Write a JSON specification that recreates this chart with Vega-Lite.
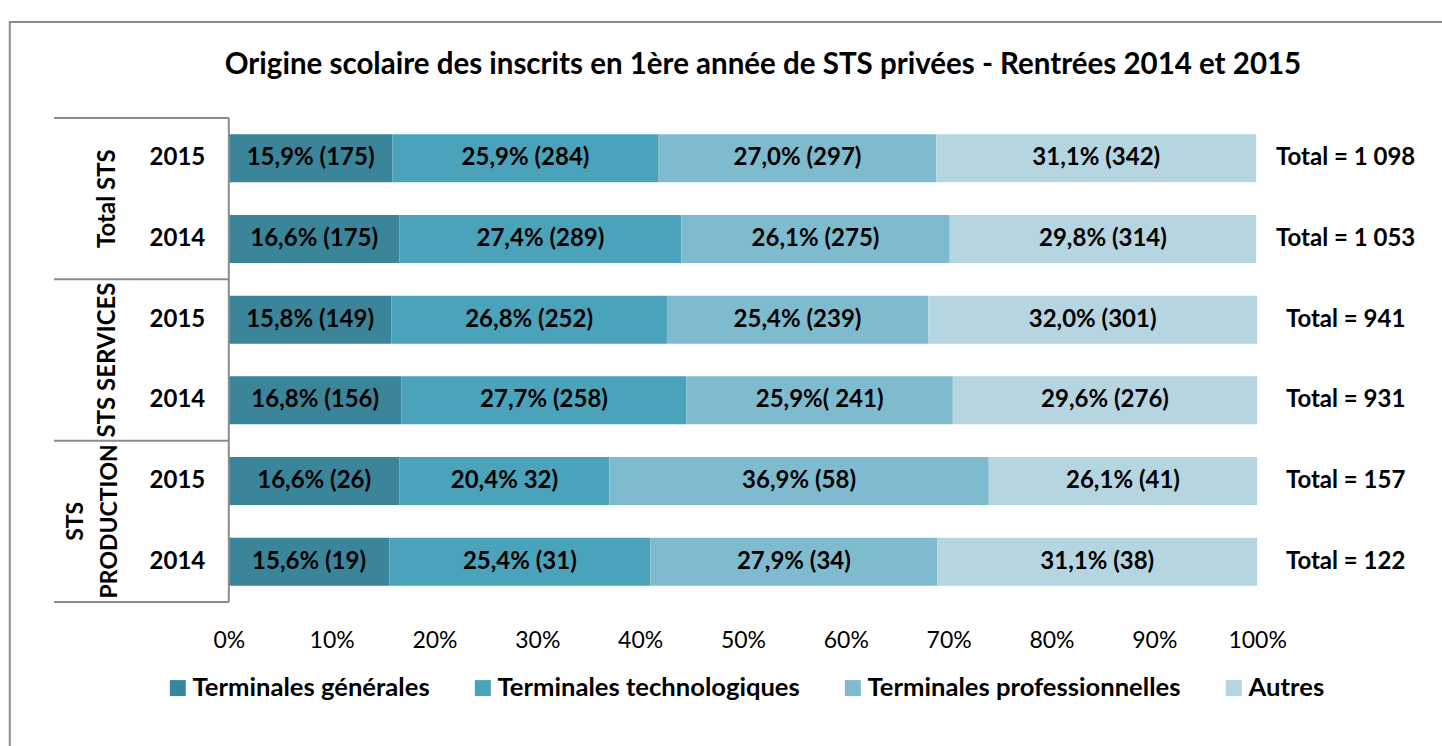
{
  "$schema": "https://vega.github.io/schema/vega-lite/v6.json",
  "autosize": {"type": "none"},
  "width": 1378,
  "height": 494,
  "padding": {"left": 54, "top": 113, "right": 10, "bottom": 139},
  "background": "white",
  "config": {
    "view": {"stroke": null},
    "font": "Lato"
  },
  "title": {
    "text": "Origine scolaire des inscrits en 1ère année de STS privées - Rentrées 2014 et 2015",
    "font": "Lato",
    "fontSize": 29.5,
    "fontWeight": "bold",
    "color": "black",
    "anchor": "middle",
    "frame": "group",
    "dx": 20,
    "offset": -59
  },
  "datasets": {
    "bars": [
      {"row": 1, "group": "Total STS", "year": "2015", "cat": "Terminales générales", "k": 1, "pct": 15.9, "label": "15,9% (175)"},
      {"row": 1, "group": "Total STS", "year": "2015", "cat": "Terminales technologiques", "k": 2, "pct": 25.9, "label": "25,9% (284)"},
      {"row": 1, "group": "Total STS", "year": "2015", "cat": "Terminales professionnelles", "k": 3, "pct": 27.0, "label": "27,0% (297)"},
      {"row": 1, "group": "Total STS", "year": "2015", "cat": "Autres", "k": 4, "pct": 31.1, "label": "31,1% (342)"},
      {"row": 2, "group": "Total STS", "year": "2014", "cat": "Terminales générales", "k": 1, "pct": 16.6, "label": "16,6% (175)"},
      {"row": 2, "group": "Total STS", "year": "2014", "cat": "Terminales technologiques", "k": 2, "pct": 27.4, "label": "27,4% (289)"},
      {"row": 2, "group": "Total STS", "year": "2014", "cat": "Terminales professionnelles", "k": 3, "pct": 26.1, "label": "26,1% (275)"},
      {"row": 2, "group": "Total STS", "year": "2014", "cat": "Autres", "k": 4, "pct": 29.8, "label": "29,8% (314)"},
      {"row": 3, "group": "STS SERVICES", "year": "2015", "cat": "Terminales générales", "k": 1, "pct": 15.8, "label": "15,8% (149)"},
      {"row": 3, "group": "STS SERVICES", "year": "2015", "cat": "Terminales technologiques", "k": 2, "pct": 26.8, "label": "26,8% (252)"},
      {"row": 3, "group": "STS SERVICES", "year": "2015", "cat": "Terminales professionnelles", "k": 3, "pct": 25.4, "label": "25,4% (239)"},
      {"row": 3, "group": "STS SERVICES", "year": "2015", "cat": "Autres", "k": 4, "pct": 32.0, "label": "32,0% (301)"},
      {"row": 4, "group": "STS SERVICES", "year": "2014", "cat": "Terminales générales", "k": 1, "pct": 16.8, "label": "16,8% (156)"},
      {"row": 4, "group": "STS SERVICES", "year": "2014", "cat": "Terminales technologiques", "k": 2, "pct": 27.7, "label": "27,7% (258)"},
      {"row": 4, "group": "STS SERVICES", "year": "2014", "cat": "Terminales professionnelles", "k": 3, "pct": 25.9, "label": "25,9%( 241)"},
      {"row": 4, "group": "STS SERVICES", "year": "2014", "cat": "Autres", "k": 4, "pct": 29.6, "label": "29,6% (276)"},
      {"row": 5, "group": "STS PRODUCTION", "year": "2015", "cat": "Terminales générales", "k": 1, "pct": 16.6, "label": "16,6% (26)"},
      {"row": 5, "group": "STS PRODUCTION", "year": "2015", "cat": "Terminales technologiques", "k": 2, "pct": 20.4, "label": "20,4% 32)"},
      {"row": 5, "group": "STS PRODUCTION", "year": "2015", "cat": "Terminales professionnelles", "k": 3, "pct": 36.9, "label": "36,9% (58)"},
      {"row": 5, "group": "STS PRODUCTION", "year": "2015", "cat": "Autres", "k": 4, "pct": 26.1, "label": "26,1% (41)"},
      {"row": 6, "group": "STS PRODUCTION", "year": "2014", "cat": "Terminales générales", "k": 1, "pct": 15.6, "label": "15,6% (19)"},
      {"row": 6, "group": "STS PRODUCTION", "year": "2014", "cat": "Terminales technologiques", "k": 2, "pct": 25.4, "label": "25,4% (31)"},
      {"row": 6, "group": "STS PRODUCTION", "year": "2014", "cat": "Terminales professionnelles", "k": 3, "pct": 27.9, "label": "27,9% (34)"},
      {"row": 6, "group": "STS PRODUCTION", "year": "2014", "cat": "Autres", "k": 4, "pct": 31.1, "label": "31,1% (38)"}
    ],
    "rows": [
      {"row": 1, "year": "2015", "total": "Total = 1 098"},
      {"row": 2, "year": "2014", "total": "Total = 1 053"},
      {"row": 3, "year": "2015", "total": "Total = 941"},
      {"row": 4, "year": "2014", "total": "Total = 931"},
      {"row": 5, "year": "2015", "total": "Total = 157"},
      {"row": 6, "year": "2014", "total": "Total = 122"}
    ],
    "groups": [
      {"gpos": 1.5, "lines": 1, "glabel": ["Total STS"]},
      {"gpos": 3.5, "lines": 1, "glabel": ["STS SERVICES"]},
      {"gpos": 5.5, "lines": 2, "glabel": ["STS", "PRODUCTION"]}
    ],
    "seps": [
      {"s": 0.5}, {"s": 2.5}, {"s": 4.5}, {"s": 6.5}
    ]
  },
  "layer": [
    {
      "data": {"values": [{"a": 1}]},
      "mark": {"type": "rect", "fill": null, "stroke": "#8c8c8c", "strokeWidth": 2, "clip": false},
      "encoding": {
        "x": {"datum": -21.3, "type": "quantitative"},
        "x2": {"datum": 130},
        "y": {"datum": -0.69, "type": "quantitative"},
        "y2": {"datum": 9}
      }
    },
    {
      "data": {"name": "bars"},
      "transform": [
        {"stack": "pct", "groupby": ["row"], "sort": [{"field": "k", "order": "ascending"}], "as": ["x0", "x1"]},
        {"calculate": "(datum.x0 + datum.x1) / 2", "as": "xmid"}
      ],
      "layer": [
        {
          "mark": {"type": "bar", "size": 48},
          "encoding": {
            "y": {"field": "row", "type": "quantitative", "scale": {"domain": [0.5, 6.5], "reverse": true, "nice": false, "zero": false}, "axis": null},
            "x": {"field": "x0", "type": "quantitative", "scale": {"domain": [-17, 117], "nice": false, "zero": false},
                  "axis": {"values": [0, 10, 20, 30, 40, 50, 60, 70, 80, 90, 100], "labelExpr": "datum.value + '%'", "title": null, "domain": false, "ticks": false, "grid": false, "labelFontSize": 23, "labelFont": "Lato", "labelColor": "black", "labelPadding": 22}},
            "x2": {"field": "x1"},
            "color": {"field": "cat", "type": "nominal",
                      "scale": {"domain": ["Terminales générales", "Terminales technologiques", "Terminales professionnelles", "Autres"], "range": ["#3A8599", "#4AA3BA", "#7EBBCF", "#B5D5E0"]},
                      "legend": {"title": null, "orient": "none", "legendX": 111, "legendY": 562, "direction": "horizontal", "columns": 4, "symbolType": "square", "symbolSize": 256, "symbolStrokeWidth": 0, "labelFontSize": 25.6, "labelFont": "Lato", "labelFontWeight": "bold", "labelColor": "black", "columnPadding": 40, "labelOffset": 2, "labelLimit": 600}}
          }
        },
        {
          "mark": {"type": "text", "fontSize": 24, "fontWeight": "bold", "color": "black", "align": "center", "baseline": "middle"},
          "encoding": {
            "y": {"field": "row", "type": "quantitative"},
            "x": {"field": "xmid", "type": "quantitative"},
            "text": {"field": "label"}
          }
        }
      ]
    },
    {
      "data": {"name": "rows"},
      "layer": [
        {
          "mark": {"type": "text", "fontSize": 24, "fontWeight": "bold", "color": "black", "align": "center", "baseline": "middle"},
          "encoding": {
            "y": {"field": "row", "type": "quantitative"},
            "x": {"datum": -5.0, "type": "quantitative"},
            "text": {"field": "year"}
          }
        },
        {
          "mark": {"type": "text", "fontSize": 24, "fontWeight": "bold", "color": "black", "align": "center", "baseline": "middle"},
          "encoding": {
            "y": {"field": "row", "type": "quantitative"},
            "x": {"datum": 108.6, "type": "quantitative"},
            "text": {"field": "total"}
          }
        }
      ]
    },
    {
      "data": {"name": "groups"},
      "transform": [{"filter": "datum.lines == 1"}],
      "mark": {"type": "text", "fontSize": 24, "fontWeight": "bold", "color": "black", "align": "center", "baseline": "bottom", "angle": 270},
      "encoding": {
        "y": {"field": "gpos", "type": "quantitative"},
        "x": {"datum": -10.6, "type": "quantitative"},
        "text": {"field": "glabel"}
      }
    },
    {
      "data": {"name": "groups"},
      "transform": [{"filter": "datum.lines == 2"}],
      "mark": {"type": "text", "fontSize": 23, "fontWeight": "bold", "color": "black", "align": "center", "baseline": "bottom", "angle": 270, "lineHeight": 34},
      "encoding": {
        "y": {"field": "gpos", "type": "quantitative"},
        "x": {"datum": -13.7, "type": "quantitative"},
        "text": {"field": "glabel"}
      }
    },
    {
      "data": {"name": "seps"},
      "mark": {"type": "rule", "color": "#8c8c8c", "strokeWidth": 2},
      "encoding": {
        "y": {"field": "s", "type": "quantitative"},
        "x": {"datum": -17, "type": "quantitative"},
        "x2": {"datum": 0}
      }
    },
    {
      "data": {"values": [{"a": 1}]},
      "mark": {"type": "rule", "color": "#8c8c8c", "strokeWidth": 2},
      "encoding": {
        "x": {"datum": 0, "type": "quantitative"},
        "y": {"datum": 0.5, "type": "quantitative"},
        "y2": {"datum": 6.5}
      }
    }
  ]
}
